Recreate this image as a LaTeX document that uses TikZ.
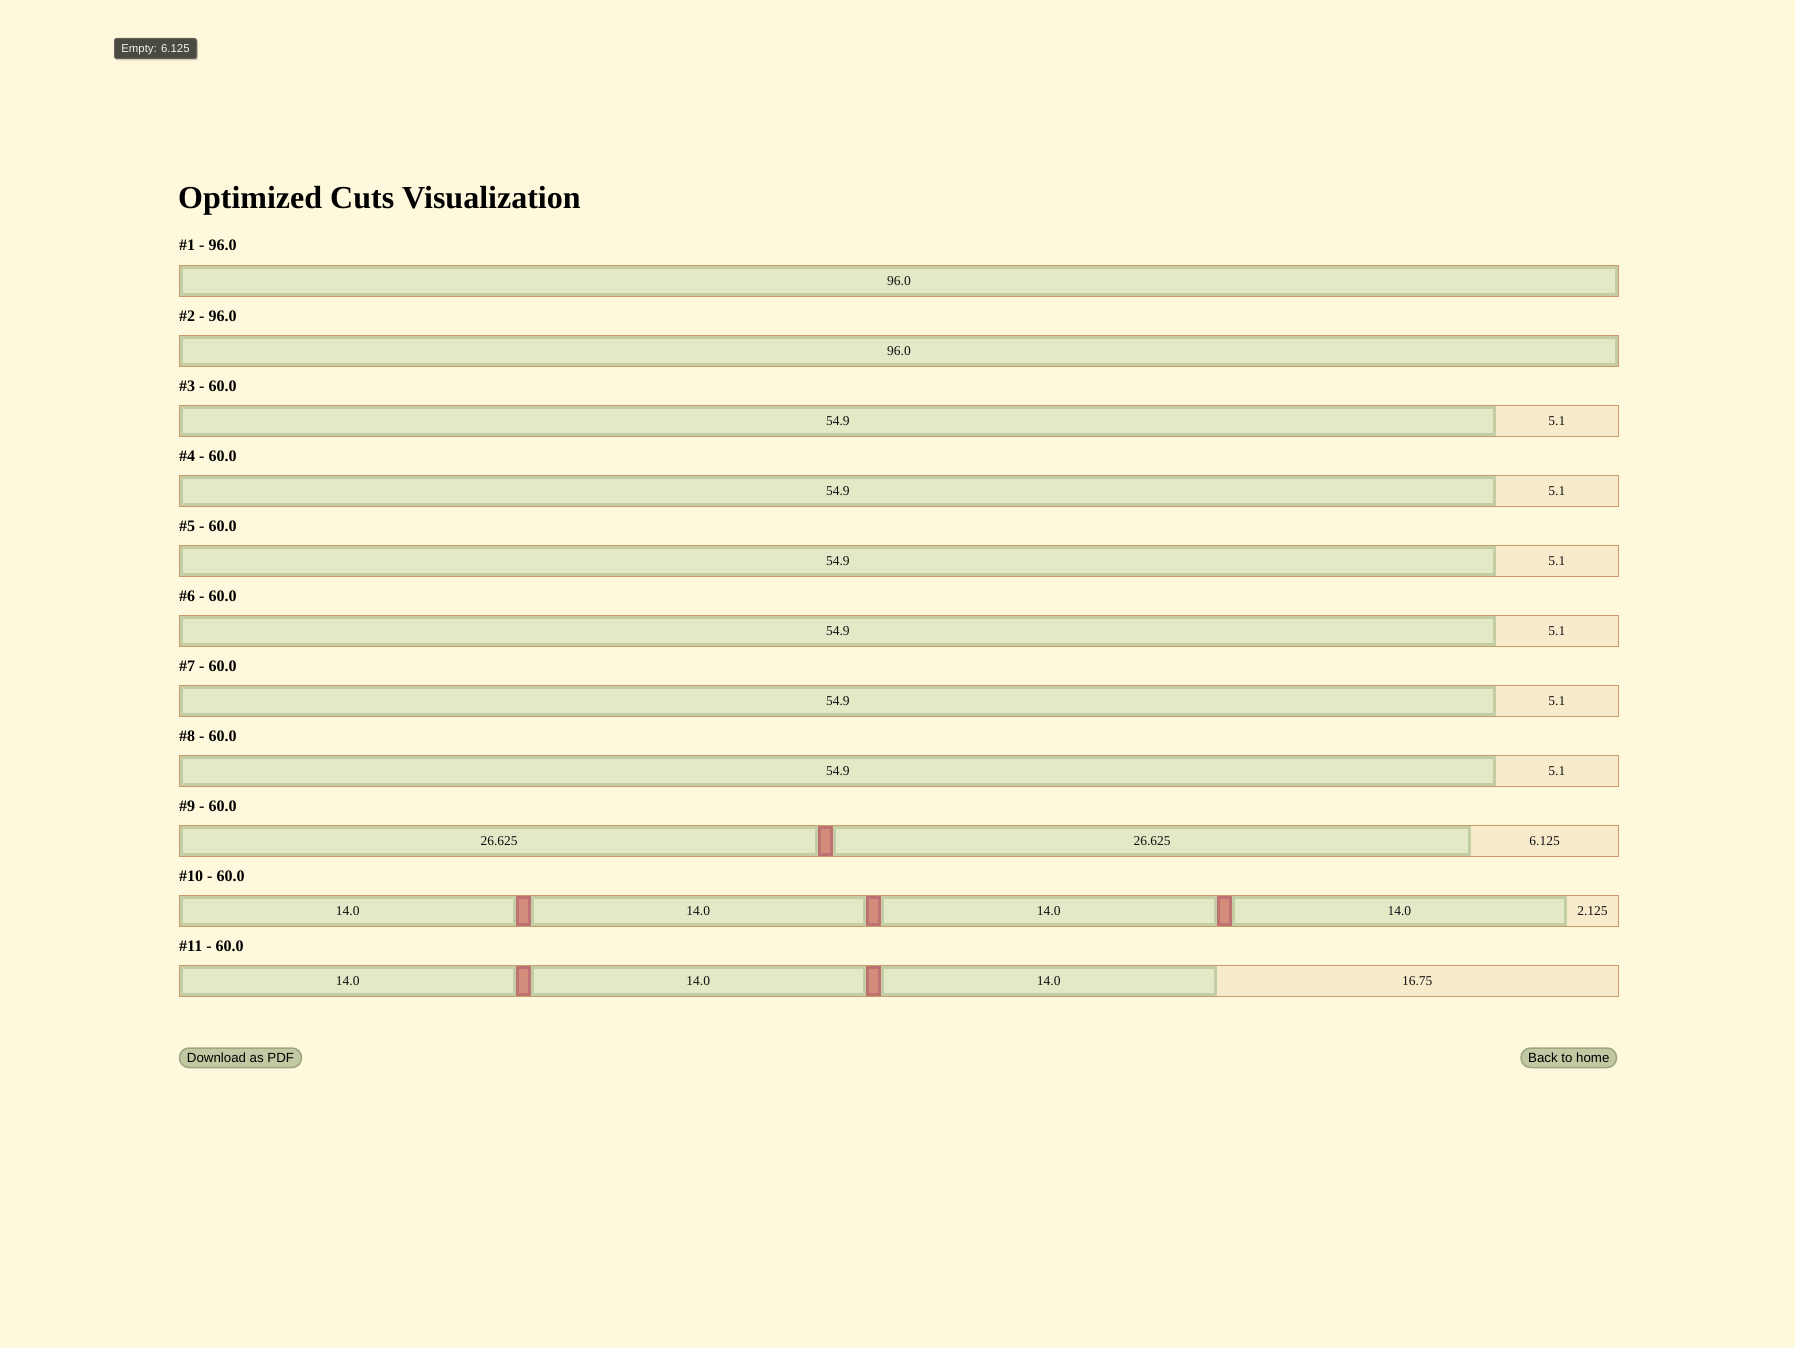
\documentclass[tikz,border=0pt]{standalone}
\usepackage{fontspec}
\setmainfont{Liberation Serif}
\newfontfamily\uisans{Liberation Sans}
\definecolor{pagebg}{HTML}{FEF9DD}
\definecolor{outerline}{HTML}{CD9A6A}
\definecolor{emptyfill}{HTML}{F8EBCB}
\definecolor{goodfill}{HTML}{E3E8C6}
\definecolor{goodline}{HTML}{C3CEA4}
\definecolor{cutfill}{HTML}{D48C7B}
\definecolor{cutline}{HTML}{BF7272}
\definecolor{tipfill}{HTML}{4A4A40}
\definecolor{tipline}{HTML}{63635A}
\definecolor{tiptext}{HTML}{F2F2EA}
\definecolor{btnfill}{HTML}{C0C9A2}
\definecolor{btnline}{HTML}{9DA781}
\definecolor{inktext}{HTML}{111111}

\newcommand\drawcutbar[4]{%
  \pgfmathsetmacro\bartop{265+70*(#1-1)}%
  \pgfmathsetmacro\pxu{1438/#2}%
  \node[rowlabel] (label#1) at (179,\bartop-14) {#3};
  \draw[outerbox] (179.5,\bartop+0.5) rectangle (1618.5,\bartop+31.5);
  \xdef\curx{180}%
  \xdef\segno{0}%
  \foreach \kind/\len in {#4}{%
    \pgfmathsetmacro\nx{\curx+\len*\pxu}%
    \pgfmathtruncatemacro\segid{\segno+1}%
    \xdef\segno{\segid}%
    \ifnum\kind=1
      \draw[goodseg] (\curx+1.5,\bartop+2.5) rectangle (\nx-1.5,\bartop+29.5);
      \node[segtext] (seg#1-\segid) at ({(\curx+\nx)/2},\bartop+16.3) {\len};
    \fi
    \ifnum\kind=2
      \draw[cutmark] (\curx+1.5,\bartop+2.5) rectangle (\nx-1.5,\bartop+29.5);
    \fi
    \ifnum\kind=3
      \node[segtext] (seg#1-\segid) at ({(\curx+\nx)/2},\bartop+16.3) {\len};
    \fi
    \xdef\curx{\nx}%
  }%
}

\begin{document}
\begin{tikzpicture}[x=1pt,y=-1pt,
  rowlabel/.style={anchor=base west,inner sep=0pt,font=\fontsize{16}{19}\selectfont\bfseries,text=black},
  outerbox/.style={draw=outerline,fill=emptyfill,line width=1pt},
  goodseg/.style={draw=goodline,fill=goodfill,line width=3pt},
  cutmark/.style={draw=cutline,fill=cutfill,line width=3pt},
  segtext/.style={inner sep=0pt,font=\fontsize{13.5}{16}\selectfont,text=inktext},
  btn/.style={draw=btnline,fill=btnfill,line width=1.5pt,rounded corners=9.5pt},
  btntext/.style={inner sep=0pt,font=\uisans\fontsize{13.3}{16}\selectfont,text=black}]
\useasboundingbox (0,0) rectangle (1795,1348);
\fill[pagebg] (0,0) rectangle (1795,1348);

% tooltip
\fill[black,opacity=0.18,rounded corners=2pt] (115.5,40) rectangle (198,60.5);
\draw[fill=tipfill,draw=tipline,line width=1pt,rounded corners=2pt] (114.5,38.5) rectangle (196.5,58.5);
\node[inner sep=0pt,font=\uisans\fontsize{11.4}{13}\selectfont,text=tiptext] (tip) at (155.5,49.6) {Empty: 6.125};

% title
\node[anchor=base west,inner sep=0pt,font=\fontsize{32}{38}\selectfont\bfseries] (title) at (178,209) {Optimized Cuts Visualization};

\drawcutbar{1}{96}{\#1 - 96.0}{1/96.0}
\drawcutbar{2}{96}{\#2 - 96.0}{1/96.0}
\drawcutbar{3}{60}{\#3 - 60.0}{1/54.9,3/5.1}
\drawcutbar{4}{60}{\#4 - 60.0}{1/54.9,3/5.1}
\drawcutbar{5}{60}{\#5 - 60.0}{1/54.9,3/5.1}
\drawcutbar{6}{60}{\#6 - 60.0}{1/54.9,3/5.1}
\drawcutbar{7}{60}{\#7 - 60.0}{1/54.9,3/5.1}
\drawcutbar{8}{60}{\#8 - 60.0}{1/54.9,3/5.1}
\drawcutbar{9}{60}{\#9 - 60.0}{1/26.625,2/0.625,1/26.625,3/6.125}
\drawcutbar{10}{60}{\#10 - 60.0}{1/14.0,2/0.625,1/14.0,2/0.625,1/14.0,2/0.625,1/14.0,3/2.125}
\drawcutbar{11}{60}{\#11 - 60.0}{1/14.0,2/0.625,1/14.0,2/0.625,1/14.0,3/16.75}

% buttons
\draw[btn] (179.5,1048) rectangle (301.5,1067.5);
\node[btntext] (pdfbtn) at (240.5,1057.8) {Download as PDF};
\draw[btn] (1521,1048) rectangle (1616.5,1067.5);
\node[btntext] (homebtn) at (1568.8,1057.8) {Back to home};
\end{tikzpicture}
\end{document}
